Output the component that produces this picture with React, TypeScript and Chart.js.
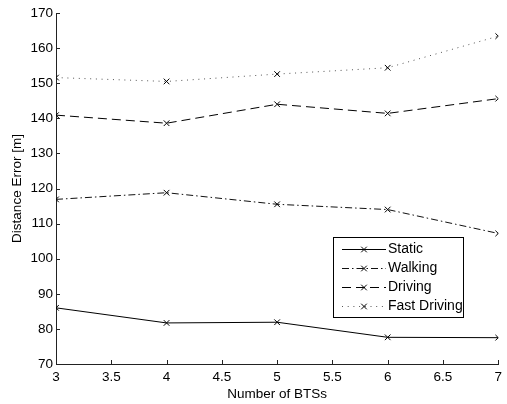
import React, { useEffect, useRef } from "react";
import { Chart, registerables } from "chart.js";

Chart.register(...registerables);

const xValues = [3, 4, 5, 6, 7];
const seriesLabels = ["Static", "Walking", "Driving", "Fast Driving"];
const staticErr = [86.0, 81.7, 81.9, 77.6, 77.5];
const walkingErr = [116.9, 118.8, 115.5, 114.0, 107.2];
const drivingErr = [140.9, 138.6, 144.0, 141.4, 145.6];
const fastErr = [151.6, 150.5, 152.6, 154.4, 163.4];
const xTickValues = [3, 3.5, 4, 4.5, 5, 5.5, 6, 6.5, 7];
const yTickValues = [70, 80, 90, 100, 110, 120, 130, 140, 150, 160, 170];

const FONT = "'Liberation Sans', Arial, Helvetica, sans-serif";

const dashes: number[][] = [[], [7, 3, 1.5, 3], [9, 5], [1, 4.7]];
const lineColors = ["#000", "#111", "#000", "#555"];

const innerTicks = {
  id: "innerTicks",
  afterDraw(chart: any) {
    const { ctx, chartArea, scales } = chart;
    ctx.save();
    ctx.strokeStyle = "#222";
    ctx.lineWidth = 1;
    ctx.beginPath();
    xTickValues.forEach((v) => {
      const px = Math.round(scales.x.getPixelForValue(v)) + 0.5;
      ctx.moveTo(px, chartArea.bottom);
      ctx.lineTo(px, chartArea.bottom - 4);
    });
    yTickValues.forEach((v) => {
      const py = Math.round(scales.y.getPixelForValue(v)) + 0.5;
      ctx.moveTo(chartArea.left, py);
      ctx.lineTo(chartArea.left + 4, py);
    });
    ctx.stroke();
    ctx.restore();
  },
};

const boxLegend = {
  id: "boxLegend",
  afterDraw(chart: any) {
    const { ctx } = chart;
    const bx = 333.5, by = 237.5, bw = 130, bh = 80;
    ctx.save();
    ctx.fillStyle = "#fff";
    ctx.fillRect(bx, by, bw, bh);
    ctx.strokeStyle = "#000";
    ctx.lineWidth = 1;
    ctx.strokeRect(bx, by, bw, bh);
    const rowY = [249, 268, 287, 306];
    chart.data.datasets.forEach((ds: any, i: number) => {
      const y = rowY[i] + 0.5;
      ctx.save();
      ctx.strokeStyle = ds.borderColor;
      ctx.lineWidth = 1;
      ctx.setLineDash(ds.borderDash || []);
      ctx.beginPath();
      ctx.moveTo(342, y);
      ctx.lineTo(386, y);
      ctx.stroke();
      ctx.setLineDash([]);
      ctx.strokeStyle = "#000";
      ctx.beginPath();
      const r = 2.8;
      ctx.moveTo(364 - r, y - r);
      ctx.lineTo(364 + r, y + r);
      ctx.moveTo(364 - r, y + r);
      ctx.lineTo(364 + r, y - r);
      ctx.stroke();
      ctx.restore();
      ctx.fillStyle = "#000";
      ctx.font = `14px ${FONT}`;
      ctx.textBaseline = "middle";
      ctx.textAlign = "left";
      ctx.fillText(ds.label, 388, y);
    });
    ctx.restore();
  },
};

export default function App() {
  const ref = useRef<HTMLCanvasElement>(null);
  useEffect(() => {
    const series = [staticErr, walkingErr, drivingErr, fastErr];
    const chart = new Chart(ref.current as HTMLCanvasElement, {
      type: "line",
      data: {
        datasets: series.map((vals, i) => ({
          label: seriesLabels[i],
          data: xValues.map((x, j) => ({ x, y: vals[j] })),
          borderColor: lineColors[i],
          borderWidth: 1,
          borderDash: dashes[i],
          pointStyle: "crossRot",
          pointRadius: 4,
          pointBorderColor: "#000",
          pointBorderWidth: 1,
          fill: false,
          tension: 0,
        })),
      },
      options: {
        responsive: false,
        animation: false,
        layout: { padding: { left: 0, top: 13, right: 6, bottom: 0 } },
        plugins: { legend: { display: false }, tooltip: { enabled: false } },
        scales: {
          x: {
            type: "linear",
            min: 3,
            max: 7,
            afterFit: (s: any) => { s.height = 40; },
            afterBuildTicks: (s: any) => { s.ticks = xTickValues.map((v) => ({ value: v })); },
            grid: { display: false, drawTicks: false },
            border: { display: true, color: "#222", width: 1 },
            ticks: {
              padding: 5,
              color: "#000",
              font: { family: FONT, size: 13.5 },
              callback: (v: any) => String(v),
              maxRotation: 0,
              autoSkip: false,
            },
            title: {
              display: true,
              text: "Number of BTSs",
              color: "#000",
              font: { family: FONT, size: 13.5 },
              padding: { top: 0, bottom: 2 },
            },
          },
          y: {
            type: "linear",
            min: 70,
            max: 170,
            afterFit: (s: any) => { s.width = 56; },
            afterBuildTicks: (s: any) => { s.ticks = yTickValues.map((v) => ({ value: v })); },
            grid: { display: false, drawTicks: false },
            border: { display: true, color: "#222", width: 1 },
            ticks: {
              padding: 3,
              color: "#000",
              font: { family: FONT, size: 13.5 },
              callback: (v: any) => String(v),
              autoSkip: false,
            },
            title: {
              display: true,
              text: "Distance Error [m]",
              color: "#000",
              font: { family: FONT, size: 13.5 },
              padding: { top: 9, bottom: 0 },
            },
          },
        },
      },
      plugins: [innerTicks, boxLegend],
    } as any);
    return () => chart.destroy();
  }, []);
  return (
    <div style={{ position: "absolute", left: 0, top: 0, width: 507, height: 404, background: "#fff" }}>
      <canvas ref={ref} width={507} height={404} style={{ display: "block" }} />
    </div>
  );
}
